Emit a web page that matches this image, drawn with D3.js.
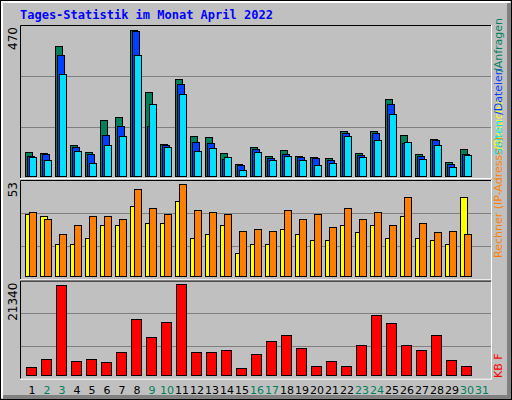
<!DOCTYPE html>
<html>
<head>
<meta charset="utf-8">
<script src="https://cdn.jsdelivr.net/npm/d3@7"></script>
<style>
  body { margin: 0; background: #fff; }
  text { font-family: "DejaVu Sans", sans-serif; }
</style>
</head>
<body>
<div id="chart"></div>
<script>
const days = d3.range(1, 32);
const weekend = [2, 3, 9, 10, 16, 17, 23, 24, 30, 31];
const hits  = [79, 76, 404, 100, 79, 177, 186, 456, 263, 103, 303, 128, 125, 76, 42, 94, 67, 85, 67, 63, 60, 143, 76, 143, 242, 131, 73, 119, 48, 88];
const files = [67, 73, 377, 94, 73, 131, 159, 453, 159, 100, 288, 110, 106, 57, 39, 88, 61, 73, 63, 60, 54, 137, 70, 137, 226, 106, 67, 116, 42, 73];
const pages = [63, 54, 318, 82, 45, 100, 128, 377, 226, 94, 257, 82, 91, 63, 24, 79, 54, 67, 54, 39, 45, 128, 63, 116, 196, 110, 57, 100, 33, 70];
const visits = [35, 34, 19, 19, 22, 29, 29, 39, 30, 30, 42, 22, 24, 29, 14, 19, 19, 27, 24, 21, 21, 29, 25, 29, 22, 34, 22, 21, 19, 44];
const sites  = [36, 32, 24, 29, 34, 34, 32, 48, 38, 35, 51, 37, 36, 35, 26, 27, 26, 37, 32, 35, 28, 38, 32, 36, 29, 44, 30, 25, 26, 24];
const kbytes = [2480, 4220, 20310, 3780, 4220, 3570, 5740, 12920, 9000, 12270, 20530, 5740, 5740, 6180, 2260, 5310, 8130, 9440, 6610, 2700, 3780, 2700, 7260, 13790, 12050, 7260, 6180, 9440, 4000, 2700];
const maxHits = 470, maxVisits = 53, maxKB = 21340;

const W = 512, H = 400;
const px0 = 20, px1 = 491;
const svg = d3.select("#chart").append("svg").attr("width", W).attr("height", H);

// frame
svg.append("rect").attr("width", W).attr("height", H).attr("fill", "#c0c0c0");
svg.append("rect").attr("x", 0.5).attr("y", 0.5).attr("width", W - 1).attr("height", H - 1)
  .attr("fill", "none").attr("stroke", "#000");
svg.append("path").attr("d", `M2,${H - 2}V2H${W - 2}`).attr("fill", "none").attr("stroke", "#fff").attr("stroke-width", 2);
svg.append("path").attr("d", `M${W - 3},3V${H - 3}H3`).attr("fill", "none").attr("stroke", "#808080").attr("stroke-width", 4);

svg.append("text").attr("x", 20).attr("y", 19)
  .style("font-family", "DejaVu Sans Mono").style("font-weight", "bold").style("font-size", "12px")
  .attr("fill", "#0000ff").text("Tages-Statistik im Monat April 2022");

const x = d3.scaleBand().domain(days).range([25, 25 + 15 * 31]).paddingInner(0);

function panel(top, bottom, baseline, max, label) {
  const y = d3.scaleLinear().domain([0, max]).range([bottom, top]);
  const g = svg.append("g");
  g.selectAll("line.grid").data([max / 3, 2 * max / 3]).join("line")
    .attr("x1", px0).attr("x2", px1).attr("y1", d => Math.round(y(d)) + 0.5).attr("y2", d => Math.round(y(d)) + 0.5)
    .attr("stroke", "#808080");
  g.append("path").attr("d", `M${px0 + 0.5},${bottom}V${top + 0.5}H${px1}`).attr("fill", "none").attr("stroke", "#000");
  g.append("path").attr("d", `M${px0},${bottom + 0.5}H${px1 + 0.5}V${top}`).attr("fill", "none").attr("stroke", "#fff");
  svg.append("text").attr("transform", `translate(17,${top + 2}) rotate(-90)`)
    .attr("text-anchor", "end").style("font-size", "12px").attr("fill", "#000").text(label);
  return {y, baseline};
}

function bars(p, data, color, dx, w) {
  svg.append("g").selectAll("rect").data(data).join("rect")
    .attr("x", (d, i) => x(days[i]) + dx + 0.5)
    .attr("y", d => Math.round(p.y(d)) + 0.5)
    .attr("width", w)
    .attr("height", d => Math.max(0, p.baseline - Math.round(p.y(d))))
    .attr("fill", color).attr("stroke", "#000");
}

const p1 = panel(25, 178, 176, maxHits, "470");
bars(p1, hits, "#00805c", 0, 7);
bars(p1, files, "#0040ff", 2, 7);
bars(p1, pages, "#00e0ff", 4, 7);

const p2 = panel(180, 279.3, 276, maxVisits, "53");
bars(p2, visits, "#ffff00", 0, 7);
bars(p2, sites, "#ff8000", 4, 7);

const p3 = panel(280.6, 378.7, 375, maxKB, "21340");
bars(p3, kbytes, "#ff0000", 1, 10);

// day labels
svg.append("g").selectAll("text").data(days).join("text")
  .attr("x", d => x(d) + 7).attr("y", 394).attr("text-anchor", "middle")
  .style("font-size", "11px")
  .attr("fill", d => weekend.includes(d) ? "#00805c" : "#000").text(d => d);

// right side legends
function vtext(yPos, anchor, color, txt) {
  svg.append("text").attr("transform", `translate(502,${yPos}) rotate(-90)`)
    .attr("text-anchor", anchor).style("font-size", "11px").attr("fill", color).text(txt);
}
vtext(258, "start", "#ff8000", "Rechner (IP-Adressen)");
vtext(150, "start", "#ffff00", "/Besuche");
vtext(155, "start", "#00e0ff", "Seiten");
vtext(115, "start", "#0040ff", "/Dateien");
vtext(72, "start", "#00805c", "/Anfragen");
vtext(378, "start", "#ff0000", "KB F");
</script>
</body>
</html>
